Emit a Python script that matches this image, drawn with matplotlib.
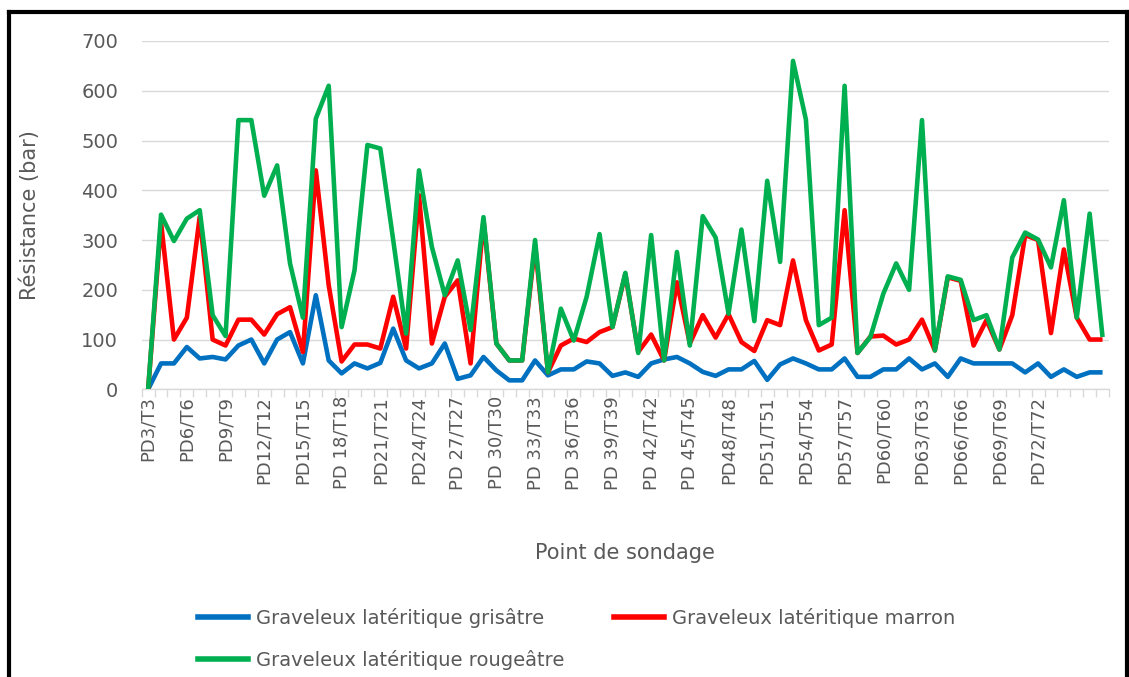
import numpy as np
import matplotlib
matplotlib.use("Agg")
import matplotlib.pyplot as plt
from matplotlib.lines import Line2D

# values (bar), one per sounding point PD3 ... PD77
grisatre = [0, 52, 52, 85, 62, 65, 60, 88, 100, 52, 100, 115, 52, 189, 58, 32, 52, 42, 53,
            122, 58, 42, 52, 92, 21, 28, 65, 38, 18, 18, 58, 28, 40, 40, 56, 52, 27, 34,
            25, 52, 60, 65, 52, 35, 27, 40, 40, 57, 19, 50, 62, 52, 40, 40, 62, 25, 25,
            40, 40, 62, 40, 52, 25, 62, 52, 52, 52, 52, 34, 52, 25, 40, 25, 34, 34]
marron = [0, 335, 100, 144, 347, 100, 88, 140, 140, 110, 151, 165, 75, 440, 209, 56, 90, 90, 82,
          186, 82, 390, 92, 186, 219, 52, 340, 92, 58, 58, 290, 34, 88, 102, 95, 115, 125, 232,
          75, 110, 58, 215, 92, 149, 104, 151, 95, 77, 139, 129, 259, 139, 78, 90, 360, 73, 106,
          108, 90, 100, 140, 78, 225, 218, 88, 139, 80, 149, 310, 300, 113, 281, 144, 100, 100]
rougeatre = [0, 351, 298, 343, 360, 149, 107, 541, 541, 389, 450, 253, 144, 544, 610, 125, 239, 491, 484,
             300, 112, 440, 286, 189, 259, 119, 346, 92, 58, 58, 300, 34, 162, 98, 186, 312, 125, 234,
             73, 310, 58, 276, 88, 348, 305, 152, 321, 137, 419, 256, 660, 542, 129, 144, 610, 73, 105,
             192, 253, 200, 541, 78, 227, 220, 139, 149, 80, 265, 315, 301, 245, 380, 144, 353, 105]

# axis labels shown (every third point)
shown_labels = ['PD3/T3', 'PD6/T6', 'PD9/T9', 'PD12/T12', 'PD15/T15', 'PD 18/T18', 'PD21/T21',
                'PD24/T24', 'PD 27/T27', 'PD 30/T30', 'PD 33/T33', 'PD 36/T36', 'PD 39/T39',
                'PD 42/T42', 'PD 45/T45', 'PD48/T48', 'PD51/T51', 'PD54/T54', 'PD57/T57',
                'PD60/T60', 'PD63/T63', 'PD66/T66', 'PD69/T69', 'PD72/T72']

series_names = ['Graveleux latéritique grisâtre', 'Graveleux latéritique marron',
                'Graveleux latéritique rougeâtre']
colors = ['#0070C0', '#FF0000', '#00B050']

n = len(grisatre)
x = np.arange(n)
grey_txt = '#595959'
grid_c = '#D9D9D9'

fig = plt.figure(figsize=(11.29, 6.77), dpi=100)
ax = fig.add_axes([141.7 / 1129, 1 - 389.3 / 677, 967.3 / 1129, 348.3 / 677])

lw = 3.3
for vals, c in zip([grisatre, marron, rougeatre], colors):
    ax.plot(x, vals, color=c, lw=lw, solid_joinstyle='round', solid_capstyle='butt', zorder=3)

ax.set_xlim(-0.5, n - 0.5)
ax.set_ylim(0, 700)
ax.set_yticks(np.arange(0, 701, 100))
ax.grid(axis='y', color=grid_c, lw=1.0, zorder=0)
ax.set_axisbelow(True)
for s in ['top', 'right', 'left']:
    ax.spines[s].set_visible(False)
ax.spines['bottom'].set_color(grid_c)
ax.spines['bottom'].set_linewidth(1.0)

# tick marks between categories, labels on every third category
ax.set_xticks(np.arange(-0.5, n, 1))
ax.set_xticklabels([])
ax.tick_params(axis='x', which='major', length=6, color=grid_c, width=1.0)
ax.set_xticks(np.arange(0, 3 * len(shown_labels), 3), minor=True)
ax.set_xticklabels(shown_labels, minor=True, rotation=90, fontsize=13, color=grey_txt)
ax.tick_params(axis='x', which='minor', length=0, pad=5)
ax.tick_params(axis='y', length=0, pad=17, labelsize=14, labelcolor=grey_txt)

ax.set_ylabel('Résistance (bar)', fontsize=15, color=grey_txt)
ax.yaxis.set_label_coords(-0.105, 0.5)
ax.set_xlabel('Point de sondage', fontsize=15, color=grey_txt)
ax.xaxis.set_label_coords(0.5, -0.47)
ax.xaxis.label.set_va('center')

handles = [Line2D([], [], color=c, lw=4) for c in colors]
order = [0, 2, 1]
fig.legend([handles[i] for i in order], [series_names[i] for i in order],
           ncol=2, loc='upper left', bbox_to_anchor=(180 / 1129, 1 - 590 / 677),
           frameon=False, fontsize=14, labelcolor=grey_txt,
           handlelength=2.58, handletextpad=0.41, columnspacing=2.58, labelspacing=1.17)

# outer black frame
fw = 3.0
fig.add_artist(Line2D([9 / 1129, 9 / 1129], [0, 1 - 12 / 677], color='black', lw=fw, transform=fig.transFigure))
fig.add_artist(Line2D([9 / 1129, 1127 / 1129], [1 - 12 / 677, 1 - 12 / 677], color='black', lw=fw, transform=fig.transFigure))
fig.add_artist(Line2D([1127 / 1129, 1127 / 1129], [0, 1 - 12 / 677], color='black', lw=fw, transform=fig.transFigure))

fig.savefig('out.png', dpi=100)
